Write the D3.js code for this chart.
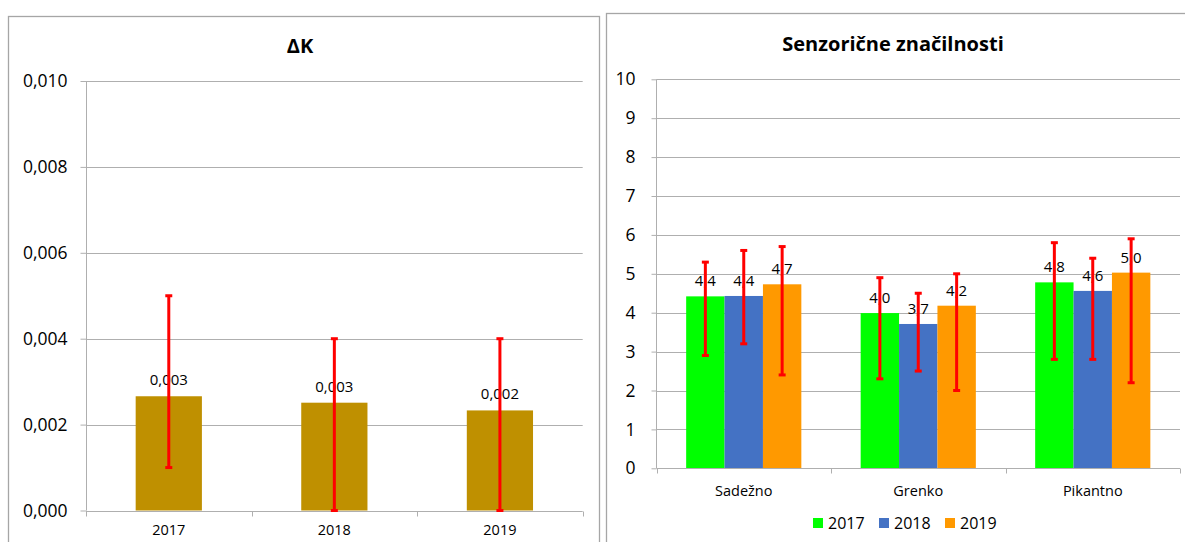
<!DOCTYPE html>
<html>
<head>
<meta charset="utf-8">
<script src="https://cdn.jsdelivr.net/npm/d3@7"></script>
<style>
  html, body { margin: 0; padding: 0; background: #fff; }
  svg { display: block; font-family: "Open Sans", sans-serif; }
</style>
</head>
<body>
<svg id="chart" width="1185" height="542"></svg>
<script>
// ---- Data: left chart (ΔK) ----
const dkYears = ["2017", "2018", "2019"];
const dkValues = [0.00266, 0.00251, 0.00233];
const dkLow = [0.001, 0.0, 0.0];
const dkHigh = [0.005, 0.004, 0.004];
const dkTicks = [0, 0.002, 0.004, 0.006, 0.008, 0.010];

// ---- Data: right chart (Senzorične značilnosti) ----
const senzCategories = ["Sadežno", "Grenko", "Pikantno"];
const seriesNames = ["2017", "2018", "2019"];
const values2017 = [4.42, 3.99, 4.78];
const values2018 = [4.43, 3.71, 4.56];
const values2019 = [4.73, 4.18, 5.03];
const low2017 = [2.9, 2.3, 2.8];
const high2017 = [5.3, 4.9, 5.8];
const low2018 = [3.2, 2.5, 2.8];
const high2018 = [5.6, 4.5, 5.4];
const low2019 = [2.4, 2.0, 2.2];
const high2019 = [5.7, 5.0, 5.9];
const senzTicks = [0, 1, 2, 3, 4, 5, 6, 7, 8, 9, 10];
const seriesColors = ["#00FF00", "#4472C4", "#FF9900"];

const loc = d3.formatLocale({decimal: ",", thousands: ".", grouping: [3], currency: ["", "€"]});
const f3 = loc.format(".3f");
const f1 = loc.format(".1f");

const svg = d3.select("#chart");
const gridColor = "#AFAFAF";
const borderColor = "#A6A6A6";
const errColor = "#FF0000";

// Panels
svg.append("rect").attr("x", 8.5).attr("y", 16.5).attr("width", 591).attr("height", 540)
  .attr("fill", "#fff").attr("stroke", borderColor).attr("stroke-width", 1.3);
svg.append("rect").attr("x", 606.5).attr("y", 13.5).attr("width", 600).attr("height", 540)
  .attr("fill", "#fff").attr("stroke", borderColor).attr("stroke-width", 1.3);

function drawErr(g, x, yLo, yHi) {
  g.append("line").attr("x1", x).attr("x2", x).attr("y1", yLo).attr("y2", yHi)
    .attr("stroke", errColor).attr("stroke-width", 3);
  [yLo, yHi].forEach(yy => {
    g.append("line").attr("x1", x - 3.5).attr("x2", x + 3.5).attr("y1", yy).attr("y2", yy)
      .attr("stroke", errColor).attr("stroke-width", 3);
  });
}

// ================= Left chart =================
(function () {
  const x = d3.scaleBand().domain(dkYears).range([86, 582.7]).padding(0);
  const y = d3.scaleLinear().domain([0, 0.010]).range([510.5, 81]);
  const g = svg.append("g");

  g.selectAll(".grid").data(dkTicks.slice(1)).enter().append("line")
    .attr("x1", 86).attr("x2", 582.7)
    .attr("y1", d => Math.round(y(d)) + 0.5).attr("y2", d => Math.round(y(d)) + 0.5)
    .attr("stroke", gridColor).attr("stroke-width", 1);

  const yAxis = g.append("g").attr("transform", "translate(86.5,0)")
    .call(d3.axisLeft(y).tickValues(dkTicks).tickFormat(f3).tickSize(6).tickPadding(13));
  yAxis.select(".domain").attr("stroke", gridColor).attr("d", `M0,${y(0.010)}V${y(0)}`);
  yAxis.selectAll(".tick line").attr("stroke", gridColor);
  yAxis.selectAll(".tick text").attr("font-size", 17.5).attr("fill", "#000")
    .attr("font-family", "Open Sans");

  const bw = x.bandwidth() * 0.4;
  g.selectAll(".bar").data(dkYears).enter().append("rect")
    .attr("x", d => x(d) + x.bandwidth() / 2 - bw / 2)
    .attr("y", (d, i) => y(dkValues[i]))
    .attr("width", bw)
    .attr("height", (d, i) => y(0) - y(dkValues[i]))
    .attr("fill", "#BF9000");

  const xAxisY = Math.round(y(0)) + 0.5;
  g.append("line").attr("x1", 86).attr("x2", 582.7).attr("y1", xAxisY).attr("y2", xAxisY)
    .attr("stroke", gridColor);
  const bounds = dkYears.map(d => x(d)).concat([x.range()[1]]);
  g.selectAll(".xt").data(bounds).enter().append("line")
    .attr("x1", d => Math.round(d) + 0.5).attr("x2", d => Math.round(d) + 0.5)
    .attr("y1", xAxisY).attr("y2", xAxisY + 5).attr("stroke", gridColor);
  g.selectAll(".xl").data(dkYears).enter().append("text")
    .attr("x", d => x(d) + x.bandwidth() / 2).attr("y", 535)
    .attr("text-anchor", "middle").attr("font-size", 14.5).text(d => d);

  g.selectAll(".dl").data(dkYears).enter().append("text")
    .attr("x", d => x(d) + x.bandwidth() / 2).attr("y", (d, i) => y(dkValues[i]) - 11)
    .attr("text-anchor", "middle").attr("font-size", 15).text((d, i) => f3(dkValues[i]));

  dkYears.forEach((d, i) => drawErr(g, x(d) + x.bandwidth() / 2, y(dkLow[i]), y(dkHigh[i])));

  svg.append("text").attr("x", 300).attr("y", 53).attr("text-anchor", "middle")
    .attr("font-size", 20).attr("font-weight", "bold").text("ΔK");
})();

// ================= Right chart =================
(function () {
  const x0 = d3.scaleBand().domain(senzCategories).range([656.5, 1180]).padding(0);
  const x1 = d3.scaleBand().domain(seriesNames).range([x0.bandwidth() * 0.17, x0.bandwidth() * 0.83]).padding(0);
  const y = d3.scaleLinear().domain([0, 10]).range([468.3, 79.3]);
  const g = svg.append("g");
  const vals = [values2017, values2018, values2019];
  const lows = [low2017, low2018, low2019];
  const highs = [high2017, high2018, high2019];

  g.selectAll(".grid").data(senzTicks.slice(1)).enter().append("line")
    .attr("x1", 656.5).attr("x2", 1180)
    .attr("y1", d => Math.round(y(d)) + 0.5).attr("y2", d => Math.round(y(d)) + 0.5)
    .attr("stroke", gridColor).attr("stroke-width", 1);

  const yAxis = g.append("g").attr("transform", "translate(656.5,0)")
    .call(d3.axisLeft(y).tickValues(senzTicks).tickFormat(d => d).tickSize(5).tickPadding(16));
  yAxis.select(".domain").attr("stroke", gridColor).attr("d", `M0,${y(10)}V${y(0)}`);
  yAxis.selectAll(".tick line").attr("stroke", gridColor);
  yAxis.selectAll(".tick text").attr("font-size", 17.5).attr("fill", "#000")
    .attr("font-family", "Open Sans");

  const data = [];
  senzCategories.forEach((c, ci) => seriesNames.forEach((s, si) => data.push({c, ci, s, si})));

  g.selectAll(".bar").data(data).enter().append("rect")
    .attr("x", d => x0(d.c) + x1(d.s))
    .attr("y", d => y(vals[d.si][d.ci]))
    .attr("width", x1.bandwidth())
    .attr("height", d => y(0) - y(vals[d.si][d.ci]))
    .attr("fill", d => seriesColors[d.si]);

  const xAxisY = Math.round(y(0)) + 0.5;
  g.append("line").attr("x1", 656.5).attr("x2", 1180).attr("y1", xAxisY).attr("y2", xAxisY)
    .attr("stroke", gridColor);
  const bounds = senzCategories.map(d => x0(d)).concat([x0.range()[1]]);
  g.selectAll(".xt").data(bounds).enter().append("line")
    .attr("x1", d => Math.round(d) + 0.5).attr("x2", d => Math.round(d) + 0.5)
    .attr("y1", xAxisY).attr("y2", xAxisY + 5).attr("stroke", gridColor);
  g.selectAll(".xl").data(senzCategories).enter().append("text")
    .attr("x", d => x0(d) + x0.bandwidth() / 2).attr("y", 496)
    .attr("text-anchor", "middle").attr("font-size", 14.5).text(d => d);

  g.selectAll(".dl").data(data).enter().append("text")
    .attr("x", d => x0(d.c) + x1(d.s) + x1.bandwidth() / 2)
    .attr("y", d => y(vals[d.si][d.ci]) - 10)
    .attr("text-anchor", "middle").attr("font-size", 15).text(d => f1(vals[d.si][d.ci]));

  data.forEach(d => drawErr(g, x0(d.c) + x1(d.s) + x1.bandwidth() / 2,
    y(lows[d.si][d.ci]), y(highs[d.si][d.ci])));

  svg.append("text").attr("x", 893).attr("y", 51).attr("text-anchor", "middle")
    .attr("font-size", 20).attr("font-weight", "bold").text("Senzorične značilnosti");

  const lg = svg.append("g");
  const legX = [813, 879, 945];
  seriesNames.forEach((s, i) => {
    lg.append("rect").attr("x", legX[i]).attr("y", 518).attr("width", 10).attr("height", 10)
      .attr("fill", seriesColors[i]);
    lg.append("text").attr("x", legX[i] + 15).attr("y", 529).attr("font-size", 16).text(s);
  });
})();
</script>
</body>
</html>
